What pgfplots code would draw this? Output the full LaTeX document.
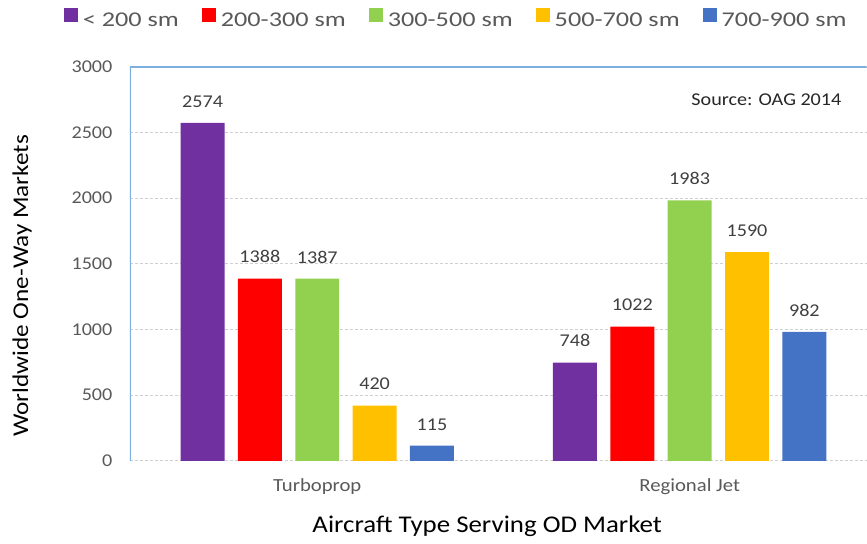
\documentclass[border=0pt]{standalone}
\usepackage{fontspec}
\setmainfont{Carlito}[FakeStretch=1.12]
\newfontfamily\legfont{Carlito}[FakeStretch=1.25]
\usepackage{pgfplots}
\pgfplotsset{compat=1.18}
\definecolor{cpurple}{HTML}{7030A0}
\definecolor{cred}{HTML}{FF0000}
\definecolor{cgreen}{HTML}{92D050}
\definecolor{corange}{HTML}{FFC000}
\definecolor{cblue}{HTML}{4472C4}
\definecolor{axisblue}{HTML}{7DB0E0}
\definecolor{gridgray}{HTML}{D0D0D0}
\definecolor{ticktext}{HTML}{595959}
\definecolor{valtext}{HTML}{404040}
\pgfplotsset{myleg/.style={legend image code/.code={\fill[##1] (0pt,-1pt) rectangle (14pt,13pt);}}}
\begin{document}
\begin{tikzpicture}
\begin{axis}[
  scale only axis, width=737pt, height=394pt,
  xmin=-0.503, xmax=1.475, ymin=0, ymax=3000,
  xtick={0,1}, xticklabels={Turboprop, Regional Jet},
  ytick={0,500,1000,1500,2000,2500,3000},
  scaled y ticks=false,
  major tick length=0pt,
  axis line style={draw=none},
  ymajorgrids, grid style={densely dashed, color=gridgray, line width=0.9pt},
  /pgf/number format/assume math mode=true,
  /pgf/number format/1000 sep={},
  yticklabel style={font=\fontsize{18}{20}\selectfont, color=ticktext, xshift=-14pt},
  xticklabel style={font=\fontsize{18.5}{20}\selectfont, color=ticktext, yshift=-14pt},
  xlabel={Aircraft Type Serving OD Market},
  ylabel={Worldwide One-Way Markets},
  xlabel style={font=\fontsize{24}{26}\selectfont, at={(axis description cs:0.485,-0.1675)}, anchor=center},
  ylabel style={font=\fontsize{22.5}{24}\selectfont, at={(axis description cs:-0.1465,0.444)}, anchor=center},
  nodes near coords,
  nodes near coords style={font=\fontsize{18}{20}\selectfont, color=valtext, yshift=12pt},
  legend style={at={(0.445,1.122)}, anchor=center, draw=none, fill=none,
    font=\legfont\fontsize{21}{23}\selectfont, text=ticktext,
    nodes={inner xsep=5pt},
    /tikz/every even column/.append style={column sep=18pt}},
  legend columns=5,
]
\addplot[ybar, bar width=0.118, bar shift=0, fill=cpurple, draw=none, myleg] coordinates {(-0.308,2574) (0.692,748)};
\addplot[ybar, bar width=0.118, bar shift=0, fill=cred, draw=none, myleg] coordinates {(-0.154,1388) (0.846,1022)};
\addplot[ybar, bar width=0.118, bar shift=0, fill=cgreen, draw=none, myleg] coordinates {(0,1387) (1,1983)};
\addplot[ybar, bar width=0.118, bar shift=0, fill=corange, draw=none, myleg] coordinates {(0.154,420) (1.154,1590)};
\addplot[ybar, bar width=0.118, bar shift=0, fill=cblue, draw=none, myleg] coordinates {(0.308,115) (1.308,982)};
\legend{{< 200 sm},{200-300 sm},{300-500 sm},{500-700 sm},{700-900 sm}}
\draw[axisblue, line width=1.2pt] (rel axis cs:0,0) -- (rel axis cs:0,1) -- (rel axis cs:1,1);
\node[font=\fontsize{18}{20}\selectfont, text=black!85] at (rel axis cs:0.864,0.916) {Source: OAG 2014};
\end{axis}
\path (current axis.south west) ++(-130pt,-83pt);
\path (current axis.north east) ++(0pt,67pt);
\end{tikzpicture}
\end{document}
